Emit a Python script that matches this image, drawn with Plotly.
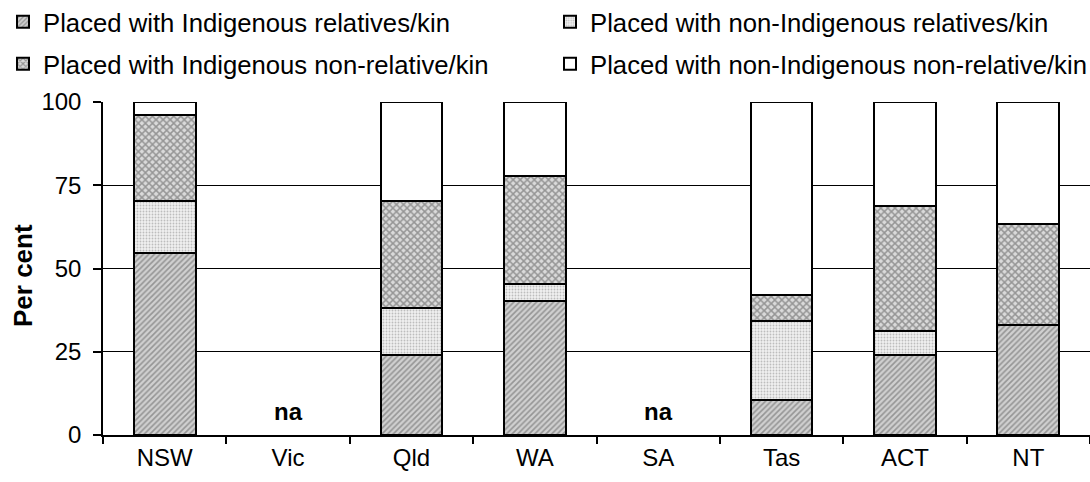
import plotly.graph_objects as go

categories = ["NSW", "Vic", "Qld", "WA", "SA", "Tas", "ACT", "NT"]
ind_rel = [54.7, None, 24.1, 40.3, None, 10.4, 24.1, 33.1]
nonind_rel = [15.6, None, 13.9, 4.9, None, 23.9, 7.2, 0.0]
ind_nonrel = [25.8, None, 32.3, 32.6, None, 7.7, 37.4, 30.3]
nonind_nonrel = [3.9, None, 29.7, 22.2, None, 58.0, 31.3, 36.6]
series_names = [
    "Placed with Indigenous relatives/kin",
    "Placed with non-Indigenous relatives/kin",
    "Placed with Indigenous non-relative/kin",
    "Placed with non-Indigenous non-relative/kin",
]
na_categories = ["Vic", "SA"]
y_ticks = [0, 25, 50, 75, 100]

FONT = "Liberation Sans, Arial, sans-serif"

patterns = [
    dict(shape="/", fgcolor="#5a5a5a", bgcolor="#d0d0d0", size=4, solidity=0.4),
    dict(shape=".", fgcolor="#8a8a8a", bgcolor="#f0f0f0", size=3, solidity=0.3),
    dict(shape="x", fgcolor="#505050", bgcolor="#dadada", size=5, solidity=0.5),
    None,
]
series = [ind_rel, nonind_rel, ind_nonrel, nonind_nonrel]

fig = go.Figure()
legend_ids = ["legend", "legend2", "legend3", "legend4"]
for i, (name, vals) in enumerate(zip(series_names, series)):
    marker = dict(color="white", line=dict(color="black", width=2))
    if patterns[i] is not None:
        marker["pattern"] = patterns[i]
    fig.add_trace(go.Bar(x=categories, y=vals, name=name, marker=marker,
                         legend=legend_ids[i]))

leg_pos = [(3, 22), (550, 22), (3, 64), (550, 64)]
leg_layout = {}
for lid, (lx, ly) in zip(legend_ids, leg_pos):
    leg_layout[lid] = dict(
        xref="container", yref="container",
        x=lx / 1090, y=1 - ly / 482, xanchor="left", yanchor="middle",
        font=dict(family=FONT, size=25.7, color="black"),
        bgcolor="rgba(0,0,0,0)", borderwidth=0,
    )

for c in na_categories:
    fig.add_annotation(x=c, y=0, yanchor="bottom", yshift=8, text="<b>na</b>",
                       showarrow=False, font=dict(family=FONT, size=24, color="black"))

# y-axis title
fig.add_annotation(xref="paper", yref="paper", x=(23 - 103) / 987, y=(435 - 276) / 333,
                   text="<b>Per cent</b>", textangle=-90, showarrow=False,
                   xanchor="center", yanchor="middle",
                   font=dict(family=FONT, size=26, color="black"))

fig.update_layout(
    width=1090, height=482,
    margin=dict(l=103, r=0, t=102, b=47, autoexpand=False),
    barmode="stack", bargap=0.5,
    plot_bgcolor="white", paper_bgcolor="white",
    font=dict(family=FONT, size=24, color="black"),
    showlegend=True,
    **leg_layout,
)
fig.update_xaxes(
    showline=True, linecolor="black", linewidth=2, automargin=False,
    ticks="outside", tickson="boundaries", ticklen=7, tickwidth=1.5, tickcolor="black",
    tickfont=dict(family=FONT, size=24), showgrid=False,
)
fig.update_yaxes(
    range=[0, 100], tickvals=y_ticks, showline=True, linecolor="black", linewidth=1.5,
    automargin=False, ticklabelstandoff=7,
    ticks="outside", ticklen=8, tickwidth=1.5, tickcolor="black",
    showgrid=True, gridcolor="black", gridwidth=1, zeroline=False,
    tickfont=dict(family=FONT, size=24),
)

fig.write_html("out.html")
